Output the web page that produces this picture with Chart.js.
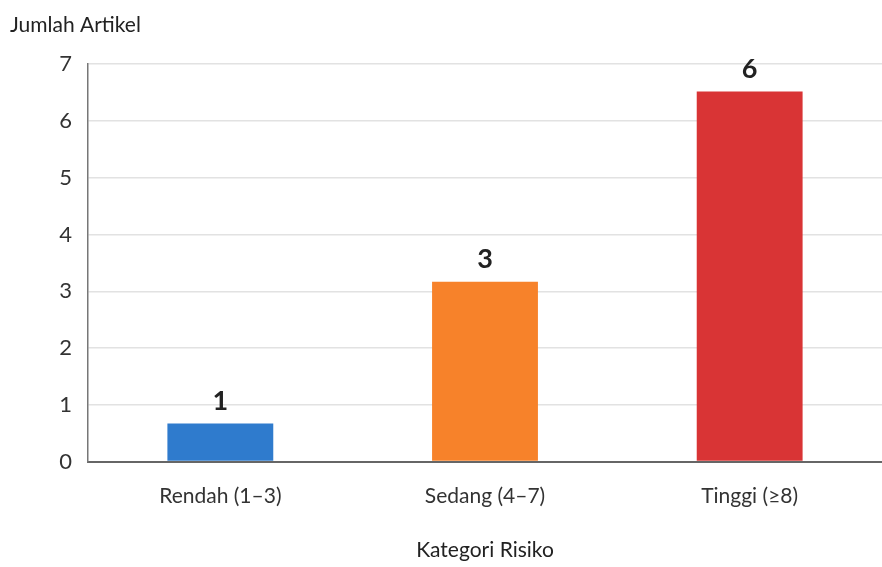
<!DOCTYPE html>
<html>
<head>
<meta charset="utf-8">
<script src="https://cdn.jsdelivr.net/npm/chart.js@4/dist/chart.umd.min.js"></script>
<style>
  body { margin: 0; background: #fff; }
</style>
</head>
<body>
<canvas id="chart" width="882" height="567"></canvas>
<script>
// categories and values
const categories = ['Rendah (1\u20133)', 'Sedang (4\u20137)', 'Tinggi (\u22658)'];
const barHeights = [0.67, 3.17, 6.52];
const barLabels = ['1', '3', '6'];
const barColors = ['#2f7bcd', '#f7822a', '#d93435'];
const yTicks = [0, 1, 2, 3, 4, 5, 6, 7];

const fontName = 'Lato, "Open Sans", sans-serif';

// draws the numbers above each bar
const valueLabels = {
    id: 'valueLabels',
    afterDatasetsDraw(chart) {
        const ctx = chart.ctx;
        const meta = chart.getDatasetMeta(0);
        ctx.save();
        ctx.font = 'bold 27px ' + fontName;
        ctx.fillStyle = '#222';
        ctx.textAlign = 'center';
        ctx.textBaseline = 'bottom';
        meta.data.forEach(function (bar, i) {
            ctx.fillText(barLabels[i], bar.x, bar.y - 9);
        });
        ctx.restore();
    }
};

new Chart(document.getElementById('chart'), {
    type: 'bar',
    data: {
        labels: categories,
        datasets: [{
            data: barHeights,
            backgroundColor: barColors,
            barPercentage: 0.4,
            categoryPercentage: 1
        }]
    },
    options: {
        responsive: false,
        animation: false,
        layout: { padding: { left: 10, right: 0, top: 0, bottom: 4 } },
        plugins: {
            legend: { display: false },
            tooltip: { enabled: false },
            title: {
                display: true,
                text: 'Jumlah Artikel',
                align: 'start',
                color: '#222',
                font: { family: fontName, size: 21, weight: 'normal' },
                padding: { top: 13, bottom: 26 }
            }
        },
        scales: {
            x: {
                grid: { display: false, drawTicks: false },
                border: { color: '#666', width: 2 },
                ticks: {
                    color: '#333',
                    font: { family: fontName, size: 21 },
                    padding: 22
                },
                title: {
                    display: true,
                    text: 'Kategori Risiko',
                    color: '#222',
                    font: { family: fontName, size: 21 },
                    padding: { top: 7, bottom: 0 }
                }
            },
            y: {
                min: 0,
                max: 7,
                afterBuildTicks: function (axis) {
                    axis.ticks = yTicks.map(function (v) { return { value: v }; });
                },
                afterFit: function (axis) {
                    axis.width = 78;
                },
                grid: { color: '#e2e2e2', lineWidth: 1.5, drawTicks: false },
                border: { color: '#777', width: 1.5 },
                ticks: {
                    color: '#333',
                    font: { family: fontName, size: 22 },
                    padding: 16
                }
            }
        }
    },
    plugins: [valueLabels]
});
</script>
</body>
</html>
